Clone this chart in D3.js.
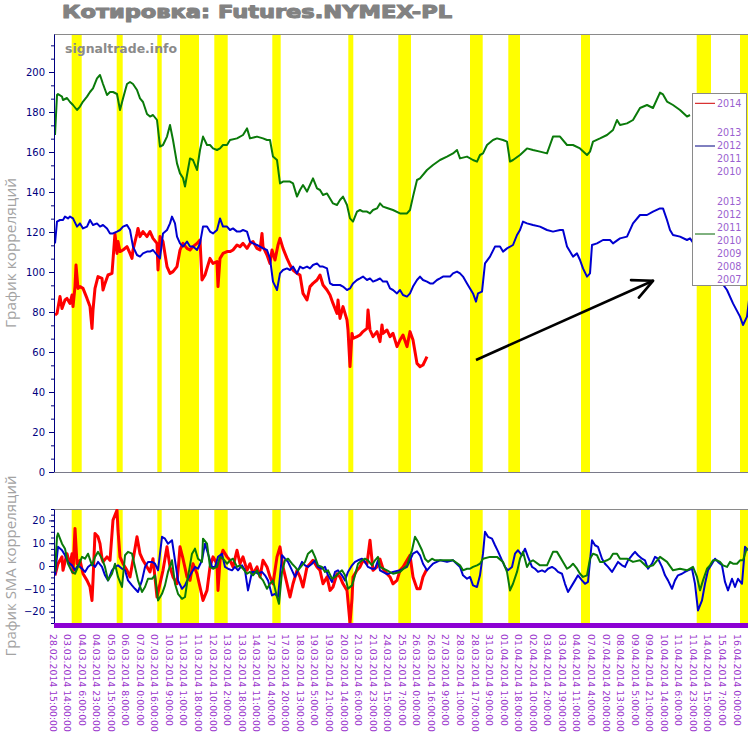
<!DOCTYPE html>
<html><head><meta charset="utf-8">
<script src="https://cdn.jsdelivr.net/npm/d3@7"></script>
<style>body{margin:0;background:#fff}svg{display:block}</style>
</head><body>
<svg id="c" width="748" height="738"></svg>
<script>
// ---------------- data ----------------
const title = "Котировка: Futures.NYMEX-PL";
const watermark = "signaltrade.info";
const yTitleTop = "График корреляций";
const yTitleBottom = "График SMA корреляций";
const xLabels = ["28.02.2014 15:00:00","03.03.2014 14:00:00","04.03.2014 6:00:00","04.03.2014 23:00:00","05.03.2014 15:00:00","06.03.2014 8:00:00","07.03.2014 0:00:00","07.03.2014 16:00:00","10.03.2014 9:00:00","11.03.2014 1:00:00","11.03.2014 18:00:00","12.03.2014 10:00:00","13.03.2014 2:00:00","13.03.2014 18:00:00","14.03.2014 11:00:00","17.03.2014 4:00:00","17.03.2014 20:00:00","18.03.2014 13:00:00","19.03.2014 5:00:00","19.03.2014 21:00:00","20.03.2014 14:00:00","21.03.2014 6:00:00","21.03.2014 23:00:00","24.03.2014 15:00:00","25.03.2014 7:00:00","26.03.2014 0:00:00","26.03.2014 16:00:00","27.03.2014 9:00:00","28.03.2014 1:00:00","28.03.2014 17:00:00","31.03.2014 9:00:00","01.04.2014 1:00:00","01.04.2014 18:00:00","02.04.2014 10:00:00","03.04.2014 2:00:00","03.04.2014 19:00:00","04.04.2014 11:00:00","07.04.2014 4:00:00","07.04.2014 20:00:00","08.04.2014 13:00:00","09.04.2014 5:00:00","09.04.2014 21:00:00","10.04.2014 14:00:00","11.04.2014 6:00:00","11.04.2014 23:00:00","14.04.2014 15:00:00","15.04.2014 7:00:00","16.04.2014 0:00:00"];
const topTicks = [0,20,40,60,80,100,120,140,160,180,200];
const bottomTicks = [-20,-10,0,10,20];
const legendRed = ["2014"];
const legendBlue = ["2013","2012","2011","2010"];
const legendGreen = ["2013","2012","2011","2010","2009","2008","2007"];
// highlighted (yellow) bar ranges, in bar index
const bands = [[17.7,27.7],[62.7,68.7],[103.3,107.7],[126,145],[160.3,173.7],[218.3,226.7],[294.3,299.3],[344.3,357],[416,428.7],[454.3,466],[527,536],[642.7,657],[686,696]];

const topGreen = [[1,168.5],[3,188.5],[4,189],[8,187.7],[9,186],[13,187],[16,185],[19,183.5],[23,181],[26,182.7],[29,185.2],[33,187.7],[36,190],[39,191.8],[43,196.8],[46,198.5],[49,194],[53,188.5],[56,190],[59,190],[63,189],[66,181],[69,186.8],[73,194],[76,195],[79,194],[83,191],[86,186.8],[89,185],[93,179],[96,177.7],[99,178.5],[103,176],[106,162.7],[109,163.5],[113,167.7],[116,173.5],[119,166],[123,154.3],[126,149.3],[129,147],[131,142.7],[133,148.5],[136,156.8],[139,156],[143,151],[146,161],[149,167.7],[153,163.5],[156,163.5],[159,161.8],[163,161],[166,161.8],[169,163.5],[173,163.5],[176,166],[183,166.8],[189,168.5],[193,171.8],[196,166.8],[203,167.7],[209,166.8],[213,166],[216,166],[219,157.7],[223,156],[226,144.3],[229,145.2],[236,145.2],[239,144.3],[243,137.7],[246,141],[249,143.5],[253,140.2],[256,143.5],[259,146.8],[263,141.8],[266,141],[269,138.5],[273,139.3],[276,136.8],[279,134.3],[283,133.5],[286,136],[289,137.7],[293,133.5],[296,126.8],[299,125.2],[303,130.2],[306,131],[309,130.2],[313,130.2],[316,129.3],[319,131],[323,131.8],[326,134.3],[329,132.7],[333,132],[339,131],[346,129.3],[353,129.3],[356,131],[359,137.7],[363,146],[366,146.8],[373,151],[379,153.5],[386,156],[393,157.7],[399,159.3],[403,161],[406,156.8],[413,157.7],[419,156],[423,155.2],[426,158.5],[429,159.3],[433,163.5],[439,166],[443,166.8],[449,166],[453,165.2],[456,155.2],[459,156],[466,158.5],[473,161.8],[479,161],[486,160.2],[493,159.3],[496,163.5],[499,167.7],[506,167.7],[513,163.5],[519,163.5],[526,161.8],[533,158.5],[536,160.2],[539,165.2],[546,166.8],[553,168.5],[559,171],[563,176],[566,173.5],[573,174.3],[579,176],[586,182],[593,183.5],[599,182],[606,189.7],[609,188.8],[613,185.2],[619,183.5],[626,181],[633,177.7],[636,178.5]];

const topBlue = [[1,114.3],[3,125.2],[6,126],[9,126],[11,127.7],[14,126.8],[16,127.7],[19,126.8],[23,122.7],[26,124.3],[29,121.8],[33,122.7],[36,126],[39,123.5],[43,124.3],[46,122.7],[49,123.5],[53,121.8],[56,119.3],[59,119.3],[63,120.2],[66,121],[69,122.7],[73,123.5],[76,121],[79,112.7],[83,108.5],[86,107.7],[89,109.3],[93,110.2],[96,110.2],[99,111],[103,108.5],[106,106.8],[109,119.3],[113,121],[116,124.3],[118,127.7],[121,124.3],[123,117.7],[126,114.3],[129,112.7],[133,115.2],[136,112.7],[139,112.7],[143,111],[146,114.3],[149,122.7],[153,122.7],[156,120.2],[159,119.3],[163,121],[166,126.8],[169,122.7],[173,122.7],[176,121],[179,121.8],[183,120.2],[186,120.2],[189,121],[193,120.2],[196,115.2],[199,114.3],[203,113.5],[206,112.7],[209,111.8],[213,111],[216,106.8],[219,95.2],[223,91],[226,99.3],[229,101],[233,101.8],[236,101],[239,102.7],[243,99.3],[246,102.7],[249,101.8],[253,102.7],[256,101.8],[259,103.5],[263,104.3],[266,102.7],[269,102.7],[273,101.8],[276,94.3],[279,93.5],[283,93.5],[286,93.5],[289,92.7],[293,91],[296,91.8],[299,94.3],[303,96],[306,96.8],[309,97.7],[313,96],[316,96.8],[319,95.2],[323,96],[326,96.8],[329,95.2],[333,95.2],[336,91.8],[339,91],[343,89.3],[346,91],[349,88.5],[353,87.7],[356,89.3],[359,92.7],[363,96],[366,97.7],[369,96],[373,95.2],[376,94.3],[379,94.3],[383,96],[386,96.8],[389,97.7],[396,97.7],[399,99.3],[403,100.2],[406,99.3],[409,97.7],[413,94.3],[416,91.8],[419,89.3],[422,85.2],[424,89.3],[428,90.2],[431,104.3],[436,107.7],[441,112.7],[446,112.7],[449,110.2],[453,111.8],[459,113.5],[463,118.5],[466,121],[469,125.2],[473,124.3],[479,123.5],[486,122.7],[493,121],[499,120.2],[506,121],[509,121],[513,112.7],[516,110.2],[519,107.7],[523,109.3],[526,106],[529,101.8],[533,97.7],[536,99.3],[538,113.5],[543,114.3],[549,116],[556,116],[559,114.3],[566,116.8],[573,117.7],[579,124.3],[586,128.5],[593,128.5],[599,130.2],[606,131.8],[609,131.8],[613,126],[616,121],[619,118.5],[626,117.7],[633,116],[636,116.8],[673,91],[679,84.3],[686,77.7],[689,73.5],[693,77.7],[695,86]];

const topRed = [[1,78.5],[3,79.3],[6,87.7],[8,81.8],[11,86],[13,86.8],[16,84.3],[18,88.5],[19,82.7],[21,92.7],[22,103.5],[24,91.8],[26,92.7],[29,91.8],[33,86.8],[36,82.7],[38,71.8],[39,81],[41,91.8],[44,97.7],[48,96.8],[49,91],[51,94.3],[54,98.5],[58,99.3],[59,106],[61,119.3],[63,109.3],[64,115.2],[66,110.2],[69,111],[73,112.7],[76,109.3],[78,106.8],[79,111],[83,119.3],[84,121.8],[86,117.7],[89,120.2],[93,117.7],[96,120.2],[99,116.8],[103,114.3],[104,101],[106,117.7],[109,115.2],[113,102.7],[116,99.3],[119,100.2],[123,102.7],[126,111],[129,114.3],[133,111.8],[136,111],[139,112.7],[143,114.3],[146,116],[148,96],[151,98.5],[154,103.5],[156,106.8],[159,104.3],[163,105.2],[164,92.7],[166,106.8],[169,109.3],[173,110.2],[176,110.2],[179,111],[183,113.5],[186,112.7],[189,114.3],[193,111.8],[196,114.3],[199,115.2],[203,111.8],[206,111],[208,119.3],[209,112.7],[213,108.5],[216,104.3],[218,111],[221,106],[224,113.5],[226,116.8],[229,111.8],[233,106.8],[236,103.5],[239,101],[243,99.3],[246,98.5],[249,89.3],[253,86],[256,92.7],[259,94.3],[263,96],[266,98.5],[269,93.5],[273,91],[276,88.5],[279,84.3],[283,79.3],[284,86],[286,76.8],[289,82.7],[293,76],[294,71],[296,52.7],[298,69.3],[299,66.8],[303,67.7],[306,68.5],[309,70.2],[313,71.8],[314,81],[316,71],[319,67.7],[323,70.2],[326,65.2],[328,73.5],[329,69.3],[333,71],[336,67.7],[339,69.3],[343,62.7],[346,66],[349,68.5],[353,62.7],[356,70.2],[359,66],[363,54.3],[366,52.7],[369,53.5],[373,57.7]];

const smaRed = [[1,-4.1],[4,1],[8,4],[9,-1.9],[13,5.4],[16,0.3],[18,5.4],[19,-3],[21,16.5],[23,1],[26,2.5],[29,-3.4],[33,-6.3],[36,-9.2],[38,-15.1],[39,-6.3],[41,14.3],[44,12.8],[46,9.8],[48,3.2],[49,1.8],[53,4],[56,2.5],[59,20.1],[63,24.5],[64,15.7],[66,4],[69,1],[73,-1.9],[76,-4.8],[79,2.5],[83,12.8],[86,5.4],[89,2.5],[93,-0.4],[96,-2.6],[99,3.2],[103,-13.6],[106,-7.8],[109,-1.9],[113,8.4],[116,-0.4],[119,-4.8],[123,-7.8],[126,8.4],[129,3.2],[133,-4.8],[136,-6.3],[139,1],[143,-3.4],[146,-9.2],[149,-15.1],[153,-10.7],[156,-0.4],[159,4],[163,1],[164,-10.7],[166,2.5],[169,6.9],[173,4],[176,2.5],[179,-0.4],[183,6.9],[186,1],[189,4],[193,-1.9],[196,1],[199,-3.4],[203,-0.4],[206,-4.8],[209,2.5],[213,-0.4],[216,-4.8],[219,-7.8],[223,4],[226,8.4],[229,-0.4],[233,-7.8],[236,-13.6],[239,-7.8],[243,-1.9],[246,-4.8],[249,-9.2],[253,-0.4],[256,1],[259,2.5],[263,-0.4],[266,-1.9],[269,-7.8],[273,-4.8],[276,-10.7],[279,-9.2],[283,-3.4],[286,-4.8],[289,-7.8],[293,-10.7],[296,-25],[298,-14.4],[299,-4.8],[303,-1.9],[306,-0.4],[309,2.5],[313,1],[316,11.3],[319,-1.9],[323,-0.4],[326,3],[329,-1.2],[333,-3.4],[336,-4.8],[339,-7.8],[343,-6.3],[346,-1.9],[349,-0.4],[353,2.5],[356,4.7],[359,-4.8],[363,-10],[366,-10],[369,-4.8],[373,-1.2]];

const smaBlue = [[1,-4.1],[4,8.4],[8,6.9],[11,4.7],[14,1.8],[18,0.3],[21,-1.9],[24,0.3],[28,-1.2],[31,-2.6],[34,-0.4],[38,1],[41,-0.4],[44,1.8],[48,-0.4],[51,-4.1],[54,-6.3],[58,-1.9],[61,-0.4],[64,0.3],[68,-1.2],[71,-1.9],[74,-6.3],[78,-8.5],[81,-10],[84,-11.4],[88,-6.3],[91,-0.4],[94,1.8],[98,1.8],[101,1],[104,-1.9],[108,12.8],[111,12],[114,9.8],[118,11.3],[121,2.5],[124,-6.3],[128,-10],[131,-8.5],[134,-5.6],[138,-2.6],[141,-0.4],[144,-1.2],[148,2.5],[151,9.8],[154,5.4],[158,-0.4],[161,-0.4],[164,4],[168,5.4],[171,-0.4],[174,-1.2],[178,-1.9],[181,-0.4],[184,-1.9],[188,0.3],[191,-1.9],[194,-10.7],[198,-2.6],[201,-2.6],[204,-3.4],[208,-2.6],[211,-4.1],[214,-6.3],[218,-12.9],[221,-12.2],[224,-13.6],[228,4.7],[231,3.2],[234,1.8],[238,-1.9],[241,-4.8],[244,-1.9],[248,1.8],[251,0.3],[254,-0.4],[258,1],[261,2.5],[264,-0.4],[268,-1.2],[271,-0.4],[274,-4.1],[278,-7],[281,-2.6],[284,-1.9],[288,-4.1],[291,-6.3],[294,-2.6],[298,0.3],[301,1.8],[304,2.5],[308,3.2],[311,1.8],[314,-0.4],[318,-1.2],[321,-1.2],[324,2.5],[326,-1.9],[333,-3.6],[339,-2.6],[346,-1.9],[353,-0.4],[359,5.4],[363,6.4],[366,4.7],[369,1],[373,-1.9],[376,-0.4],[379,1],[386,2.5],[393,1.8],[399,2.5],[406,-0.4],[409,-4.1],[413,-5.6],[416,-4.8],[419,-8.5],[423,-9.2],[426,-4.1],[429,5.4],[431,15],[434,12.8],[438,12],[441,9.1],[444,6.4],[448,2.5],[451,-0.4],[454,-1.9],[458,-0.4],[461,5.4],[464,6.9],[468,4.7],[471,7.6],[474,4],[478,-0.4],[481,-1.2],[484,-2.6],[488,-1.9],[491,-2.6],[494,-1.2],[498,-0.4],[501,-1.2],[504,-2.6],[508,-3.4],[511,-7.8],[514,-11.4],[518,-8.5],[521,-6.3],[524,-4.1],[528,-6.3],[531,-7.8],[534,-7],[538,11.3],[541,9.1],[544,8.4],[548,3.2],[551,1],[554,-0.4],[558,-2.6],[561,-0.4],[564,1.8],[568,0.3],[571,-0.4],[574,2.5],[578,4.7],[581,6.2],[584,4.7],[588,3.2],[591,2.5],[594,-1.2],[598,1],[601,4],[604,3.2],[608,-0.4],[611,-4.1],[614,-6.3],[618,-10],[621,-6.3],[624,-4.1],[628,-3.4],[631,-2.6],[634,-1.9],[638,-1.2],[641,-7.8],[644,-19.5],[648,-15.1],[651,-7.8],[654,-1.9],[658,1],[661,3.2],[664,1.8],[668,0.3],[671,-7],[674,-10.7],[678,-5.6],[681,-9.2],[684,-5.6],[688,-7.8],[691,8.4],[694,6.9]];

const smaGreen = [[1,-2.6],[3,12.8],[4,14.3],[8,9.8],[11,7.6],[14,1],[18,-2.6],[21,-3.4],[24,-0.4],[28,4],[31,3.2],[34,5.4],[38,0.3],[41,4],[44,6.2],[48,3.2],[51,-0.4],[54,-6.3],[58,-3.4],[61,1],[64,-4.8],[68,-9.2],[71,4.7],[74,6.2],[78,5.4],[81,-0.4],[84,-6.3],[88,-11.4],[91,-9.2],[94,-5.6],[98,-5.6],[101,-4.1],[104,-15.1],[108,-12.2],[111,-8.5],[114,-2.6],[118,2.5],[121,-7.8],[124,-12.2],[128,-14.4],[131,-13.6],[134,-4.8],[138,5.4],[141,7.6],[144,3.2],[148,1.8],[149,12],[153,9.8],[156,-0.4],[159,-1.2],[163,-0.4],[166,4],[169,3.2],[173,1],[176,2.5],[179,3.2],[183,-0.4],[186,0.3],[189,-1.2],[193,-3.4],[196,-2.6],[199,-4.1],[203,-1.9],[206,-4.8],[209,-6.3],[213,-10],[216,-7.8],[219,-6.3],[223,-13.6],[225,-16.6],[228,-2.6],[231,2.5],[234,3.2],[238,1],[241,-0.4],[244,-1.9],[248,0.3],[251,1.8],[254,5.4],[258,6.9],[261,4],[264,0.3],[268,-0.4],[271,-2.6],[274,-1.9],[278,-5.6],[281,-4.8],[284,-3.4],[288,-1.9],[291,-4.1],[294,-10],[298,-8.5],[301,-4.1],[304,1],[308,2.5],[311,3.2],[314,2.5],[318,0.3],[321,2.5],[324,4],[326,-0.4],[333,-1.9],[339,-3.4],[346,-2.6],[353,0.3],[358,6.9],[361,12.8],[364,10.6],[368,6.9],[371,3.2],[374,1.8],[378,3.2],[381,2.5],[386,2.5],[393,2.5],[399,2.5],[406,0.3],[409,-1.9],[413,-1.2],[416,-1.2],[419,-0.4],[423,0.3],[426,1],[429,3.2],[436,4],[443,4],[449,1.8],[453,-2.6],[456,-10.7],[459,-7.8],[463,-2.6],[466,3.2],[469,6.2],[473,-0.4],[476,1.8],[479,2.5],[486,0.3],[493,0.3],[496,3.2],[499,6.2],[503,6.2],[506,4],[509,1.8],[513,-1.2],[516,-0.4],[519,1],[523,-1.2],[526,-3.4],[529,-4.8],[533,-4.1],[536,3.2],[539,5.4],[543,4.7],[546,1.8],[549,1.8],[553,2.5],[556,3.2],[559,5.4],[563,5.4],[566,3.2],[573,3.2],[579,1.8],[586,2.5],[593,-0.4],[599,0.3],[606,4],[613,1.8],[619,-1.9],[626,-1.2],[633,-1.9],[639,-0.4],[643,-4.8],[646,-10.7],[649,-6.3],[653,-1.2],[656,0.3],[659,2.5],[663,2.5],[666,1.8],[669,0.3],[673,-0.4],[676,1.8],[679,1],[683,1],[686,2.5],[689,2.5],[693,8]];

// trend arrow annotation (bar index, value)
const arrowPts = [[422,56],[599,95.6]];

// ---------------- layout ----------------
const W = 748, H = 738;
const L = 54, R = 748;
const topPlot = {t: 34, b: 472};
const botPlot = {t: 509, b: 623};
const svg = d3.select("#c");

const x = d3.scaleLinear().domain([0, 694]).range([L, R]);
const yTop = d3.scaleLinear().domain([0, 219]).range([topPlot.b, topPlot.t]);
const yBot = d3.scaleLinear().domain([-25, 25]).range([botPlot.b, botPlot.t]);
const xPos = d3.scalePoint().domain(xLabels).range([x(-1), x(683)]);

const defs = svg.append("defs");
defs.append("clipPath").attr("id","clipTop").append("rect")
  .attr("x", L).attr("y", topPlot.t).attr("width", R-L).attr("height", topPlot.b-topPlot.t);
defs.append("clipPath").attr("id","clipBot").append("rect")
  .attr("x", L).attr("y", botPlot.t).attr("width", R-L).attr("height", botPlot.b-botPlot.t);

// title
svg.append("text").attr("x", 62).attr("y", 18)
  .attr("font-family","DejaVu Sans").attr("font-weight","bold").attr("font-size",17.5)
  .attr("fill","#828282").attr("stroke","#828282").attr("stroke-width",1.1)
  .attr("stroke-linejoin","round")
  .attr("textLength",390).attr("lengthAdjust","spacingAndGlyphs").text(title);

function panel(yScale, plot, clipId, series, ticks, minorStep, yTitle, titleLen) {
  const g = svg.append("g");
  // bands
  g.append("g").attr("clip-path",`url(#${clipId})`).selectAll("rect").data(bands).join("rect")
    .attr("x", d => x(d[0])).attr("width", d => x(d[1]) - x(d[0]))
    .attr("y", plot.t).attr("height", plot.b - plot.t).attr("fill", "#ffff00");
  // frame top
  g.append("line").attr("x1", L).attr("x2", R).attr("y1", plot.t + 0.5).attr("y2", plot.t + 0.5)
    .attr("stroke", "#8a8a8a");
  // lines
  const lg = g.append("g").attr("clip-path",`url(#${clipId})`);
  series.forEach(s => {
    lg.append("path").datum(s.data)
      .attr("fill","none").attr("stroke", s.color).attr("stroke-width", s.w)
      .attr("stroke-linejoin","round")
      .attr("d", d3.line().x(d => x(d[0])).y(d => yScale(d[1])));
  });
  // axes
  const [d0, d1] = yScale.domain();
  const minor = d3.range(Math.ceil(d0/minorStep)*minorStep, d1 + 1e-9, minorStep);
  const ax2 = g.append("g").attr("transform", `translate(${L},0)`)
    .call(d3.axisLeft(yScale).tickValues(minor).tickSize(3).tickFormat(""));
  ax2.select(".domain").remove();
  ax2.selectAll("line").attr("stroke","#000080");
  const ax = g.append("g").attr("transform", `translate(${L},0)`)
    .call(d3.axisLeft(yScale).tickValues(ticks).tickSize(5).tickPadding(4).tickSizeOuter(0));
  ax.select(".domain").attr("stroke","#000080");
  ax.selectAll("line").attr("stroke","#000080");
  ax.selectAll("text").attr("fill","#000080").attr("font-family","DejaVu Sans").attr("font-size",10);
  // y title
  svg.append("text")
    .attr("transform", `translate(16,${(plot.t + plot.b)/2}) rotate(-90)`)
    .attr("text-anchor","middle").attr("font-family","Open Sans").attr("font-size",15)
    .attr("fill","#a3a3a3").attr("textLength", titleLen).attr("lengthAdjust","spacingAndGlyphs")
    .text(yTitle);
  return g;
}

panel(yTop, topPlot, "clipTop", [
  {data: topRed, color: "#ff0000", w: 3},
  {data: topBlue, color: "#0000d0", w: 2},
  {data: topGreen, color: "#0a7a0a", w: 2}
], topTicks, 20/3, yTitleTop, 150);

// bottom line of top plot
svg.append("line").attr("x1", L).attr("x2", R).attr("y1", topPlot.b + 0.5).attr("y2", topPlot.b + 0.5)
  .attr("stroke", "#7a7a8a");

panel(yBot, botPlot, "clipBot", [
  {data: smaRed, color: "#ff0000", w: 3},
  {data: smaBlue, color: "#0000d0", w: 2},
  {data: smaGreen, color: "#0a7a0a", w: 2}
], bottomTicks, 2.5, yTitleBottom, 181);

// watermark
svg.append("text").attr("x", 65).attr("y", 53)
  .attr("font-family","DejaVu Sans").attr("font-weight","bold").attr("font-size",12.5)
  .attr("fill","#8a8a8a").attr("textLength",112).attr("lengthAdjust","spacingAndGlyphs").text(watermark);

// arrow
const a0 = [x(arrowPts[0][0]), yTop(arrowPts[0][1])];
const a1 = [x(arrowPts[1][0]), yTop(arrowPts[1][1])];
const ang = Math.atan2(a1[1]-a0[1], a1[0]-a0[0]);
svg.append("line").attr("x1", a0[0]).attr("y1", a0[1]).attr("x2", a1[0]).attr("y2", a1[1])
  .attr("stroke","#000").attr("stroke-width",2.6);
[0.45, -0.45].forEach(da => {
  svg.append("line").attr("x1", a1[0]).attr("y1", a1[1])
    .attr("x2", a1[0] - 22*Math.cos(ang+da)).attr("y2", a1[1] - 22*Math.sin(ang+da))
    .attr("stroke","#000").attr("stroke-width",2.6).attr("stroke-linecap","round");
});

// legend
const lgd = svg.append("g");
lgd.append("rect").attr("x", 692.5).attr("y", 93.5).attr("width", 54).attr("height", 192)
  .attr("fill","#fff").attr("stroke","#8a8a8a");
const legendFont = t => t.attr("font-family","DejaVu Sans").attr("font-size",9.6).attr("fill","#9a5fd0")
  .attr("dominant-baseline","central");
const groups = [
  {items: legendRed, y0: 103.3, line: 103.3, color: "#d00000"},
  {items: legendBlue, y0: 132.7, line: 146, color: "#000080"},
  {items: legendGreen, y0: 201.7, line: 234, color: "#006400"}
];
groups.forEach(gp => {
  lgd.append("line").attr("x1", 695).attr("x2", 715).attr("y1", gp.line).attr("y2", gp.line)
    .attr("stroke", gp.color).attr("stroke-width", 1);
  gp.items.forEach((t, i) => {
    lgd.append("text").attr("x", 717).attr("y", gp.y0 + i*12.95).call(legendFont).text(t);
  });
});

// x purple bar and labels
svg.append("rect").attr("x", L).attr("y", botPlot.b).attr("width", R - L).attr("height", 5).attr("fill","#8c00d4");
svg.append("g").selectAll("text").data(xLabels).join("text")
  .attr("transform", d => `translate(${xPos(d)},634) rotate(90)`)
  .attr("dominant-baseline","central")
  .attr("font-family","DejaVu Sans").attr("font-size",9.3).attr("fill","#9933cc")
  .text(d => d);
</script>
</body></html>
